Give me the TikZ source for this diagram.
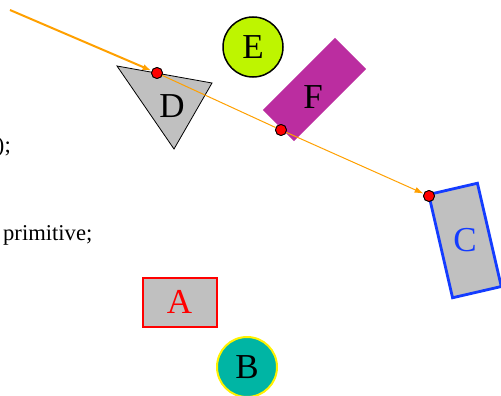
\documentclass[tikz,border=0pt]{standalone}
\usepackage{fontspec}
\setmainfont{Liberation Serif}
\usetikzlibrary{arrows.meta}
\definecolor{limeE}{RGB}{190,245,0}
\definecolor{tealB}{RGB}{0,181,164}
\definecolor{magF}{RGB}{187,45,160}
\definecolor{blueC}{RGB}{20,60,255}
\definecolor{orangeL}{RGB}{255,160,0}
\definecolor{grayS}{RGB}{192,192,192}
\begin{document}
\begin{tikzpicture}[x=1pt,y=-1pt,
  lbl/.style={font=\fontsize{35}{35}\selectfont, inner sep=0pt},
  lefttext/.style={font=\fontsize{22.6}{24}\selectfont, inner sep=0pt},
  dot/.style={circle, fill=red, draw=black, line width=0.8pt, minimum size=11pt, inner sep=0pt},
  ray/.style={draw=orangeL, -{Latex[length=9pt,width=6pt]}},
]
\useasboundingbox (0,0) rectangle (501,396);
% left clipped texts
\node[lefttext, anchor=east] (t1) at (11,147) {0);};
\node[lefttext, anchor=west] (t2) at (3,235) {primitive;};
% D triangle
\coordinate (D1) at (117,66);
\coordinate (D2) at (212,83);
\coordinate (D3) at (174,149);
\draw[fill=grayS, draw=black, line width=0.8pt] (D1) -- (D2) -- (D3) -- cycle;
\node[lbl] (D) at (172,106) {D};
% E circle
\node[circle, fill=limeE, draw=black, line width=1.5pt, minimum size=60pt, inner sep=0pt, font=\fontsize{35}{35}\selectfont] (E) at (253,47) {E};
% F rotated rectangle
\node[rectangle, fill=magF, minimum width=102pt, minimum height=44pt, rotate=45, inner sep=0pt] (Fbox) at (314.5,89.5) {};
\node[lbl] (F) at (313,97) {F};
% C rotated rectangle
\node[rectangle, fill=grayS, draw=blueC, line width=2.8pt, minimum width=50pt, minimum height=106pt, rotate=13, inner sep=0pt] (Cbox) at (465,240.5) {};
\node[lbl, text=blueC] (C) at (Cbox.center) {C};
% A rectangle
\node[rectangle, fill=grayS, draw=red, line width=2pt, minimum width=74pt, minimum height=49pt, inner sep=0pt, text=red, font=\fontsize{35}{35}\selectfont] (A) at (179.5,302) {A};
% B circle
\node[circle, fill=tealB, draw=yellow, line width=2pt, minimum size=60pt, inner sep=0pt, font=\fontsize{35}{35}\selectfont] (B) at (247,367) {B};
% ray
\coordinate (S) at (10,10);
\node[dot] (p1) at (157,73) {};
\node[dot] (p2) at (281,130) {};
\node[dot] (p3) at (429,196) {};
\draw[ray, line width=2pt] (S) -- (p1);
\draw[draw=orangeL, line width=1pt] (p1.center) -- (p2);
\draw[ray, line width=1pt] (p2) -- (p3);
\node[dot] at (p1) {};
\node[dot] at (p2) {};
\node[dot] at (p3) {};
\end{tikzpicture}
\end{document}
